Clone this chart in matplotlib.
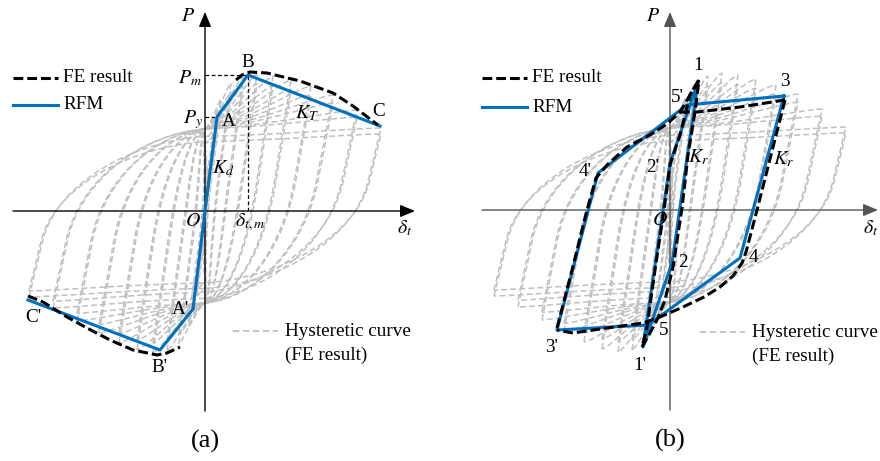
import matplotlib
matplotlib.use("Agg")
import matplotlib.pyplot as plt
from matplotlib.path import Path
from matplotlib.patches import PathPatch

plt.rcParams["font.family"] = ["Liberation Serif", "DejaVu Serif"]
plt.rcParams["mathtext.fontset"] = "stix"

# FE cyclic loops: displacement amplitude and peak loads per cycle level
loop_d = [8, 16, 26, 38, 52, 68, 86, 106, 128, 152, 176]
loop_pos = [80, 112, 128, 134, 137, 135, 131, 125, 116, 101, 83]
loop_neg = [-85, -115, -133, -140, -142, -139, -132, -122, -110, -97, -86]

# (a) skeleton curve
rfm_a_x = [-177, -45, -12, 0, 12, 43, 175]
rfm_a_y = [-89, -139, -98, 0, 94, 136, 85]
fe_a_top_x = [31, 37, 45, 62, 95, 128, 148, 165, 173]
fe_a_top_y = [131, 136, 139, 138, 130, 118, 105, 92, 86]
fe_a_bot_x = [-177, -162, -138, -118, -95, -72, -48, -38, -25]
fe_a_bot_y = [-85, -91, -106, -117, -129, -139, -144, -142, -136]
P_m, P_y, d_m, d_y = 136, 94, 43, 12

# (b) hysteresis model
rfm_b_outer_x = [114, 70, -22, -113, -72, 17, 114]
rfm_b_outer_y = [114, -48, -115, -120, 37, 105, 114]
rfm_b_inner_x = [28, 0, -27, 2, 28]
rfm_b_inner_y = [128, 47, -137, -53, 128]
fe_b_up_x = [-113, -98, -83, -74, -63, -43, -20, -3, 10, 20, 29]
fe_b_up_y = [-118, -60, 0, 32, 45, 63, 75, 86, 98, 115, 130]
fe_b_top_x = [10, 27, 70, 115]
fe_b_top_y = [98, 98, 103, 110]
fe_b_down_x = [115, 101, 87, 76, 72, 63, 50, 34, 13, -10, -27, -63, -97, -113]
fe_b_down_y = [110, 55, 0, -42, -53, -66, -77, -87, -97, -107, -113, -118, -123, -120]
fe_b_in_l_x = [29, 20, 10, 0, -6, -15, -23, -28]
fe_b_in_l_y = [130, 115, 75, 45, 0, -60, -117, -137]
fe_b_in_r_x = [-28, -20, -13, -5, 3, 12, 18, 25, 29]
fe_b_in_r_y = [-137, -123, -110, -90, -57, 2, 55, 98, 130]

BLUE = "#0070c0"
GRAY = "#c0c0c0"
FS = 13.8


def loop_path(d, yp, yn, h=30, mp=82, mn=-92):
    # one pinched loop: straight stiff branch, bend into the pinch, then on to the peak
    k = 8 - 0.022 * d
    mp = min(mp, 0.9 * yp)
    mn = max(mn, 0.9 * yn)
    rx = min(-d + (-h - yn) / k, 0)
    ux = max(d - (yp - h) / k, 0)
    L1 = 0.55 * (mp + h)
    L2 = 0.55 * (h - mn)
    verts = [(-d, yn), (rx, -h),
             (rx + L1 / k, -h + L1), (0.45 * rx, mp - 5), (0, mp),
             (0.4 * d, mp + 0.15 * (yp - mp)), (0.85 * d, yp - 0.05 * (yp - mp)), (d, yp),
             (ux, h),
             (ux - L2 / k, h - L2), (0.45 * ux, mn + 5), (0, mn),
             (-0.4 * d, mn + 0.15 * (yn - mn)), (-0.85 * d, yn - 0.05 * (yn - mn)), (-d, yn)]
    codes = [Path.MOVETO, Path.LINETO] + [Path.CURVE4] * 6 + [Path.LINETO] + [Path.CURVE4] * 6
    return Path(verts, codes)


def draw_loops(ax):
    for d, yp, yn in zip(loop_d, loop_pos, loop_neg):
        for s in (1.0, 0.93):
            ax.add_patch(PathPatch(loop_path(d, yp * s, yn * s), fill=False, ec=GRAY,
                                   lw=1.1, ls=(0, (3.9, 2)), zorder=1))


def draw_axes(ax, x0, x1, y0, y1, color):
    style = "-|>,head_length=0.6,head_width=0.25"
    for xy, xyt in (((x1, 0), (x0, 0)), ((0, y1), (0, y0))):
        ax.annotate("", xy=xy, xytext=xyt, annotation_clip=False, zorder=3,
                    arrowprops=dict(arrowstyle=style, color=color, lw=1.0,
                                    mutation_scale=15, shrinkA=0, shrinkB=0))


def draw_legend(ax, x, y_fe, y_rfm, hx, hy):
    ax.plot([x, x + 45], [y_fe, y_fe], color="black", lw=2.2, ls=(0, (3.2, 1.3)))
    ax.text(x + 50, y_fe, "FE result", fontsize=FS, va="center")
    ax.plot([x, x + 45], [y_rfm, y_rfm], color=BLUE, lw=2.2)
    ax.text(x + 50, y_rfm, "RFM", fontsize=FS, va="center")
    ax.plot([hx, hx + 45], [hy, hy], color=GRAY, lw=1.3, ls=(0, (3.5, 2)))
    ax.text(hx + 52, hy, "Hysteretic curve", fontsize=FS, va="center")
    ax.text(hx + 52, hy - 24, "(FE result)", fontsize=FS, va="center")


fig = plt.figure(figsize=(8.8, 4.61), dpi=100)
ax_a = fig.add_axes([0, 0, 0.5, 1])
ax_b = fig.add_axes([0.5, 0, 0.5, 1])
ax_a.set_xlim(-205, 235)
ax_a.set_ylim(-250, 211)
ax_b.set_xlim(-230, 210)
ax_b.set_ylim(-251, 210)
for ax in (ax_a, ax_b):
    ax.axis("off")
    draw_loops(ax)

fe_kw = dict(color="black", lw=2.2, ls=(0, (3.2, 1.3)), zorder=5)

# (a) skeleton curve
draw_axes(ax_a, -192, 210, -200, 199, "black")
ax_a.plot([0, d_m], [P_m, P_m], color="black", lw=0.9, ls=(0, (3, 2)), zorder=2)
ax_a.plot([0, d_y], [P_y, P_y], color="black", lw=0.9, ls=(0, (3, 2)), zorder=2)
ax_a.plot([d_m, d_m], [0, P_m], color="black", lw=0.9, ls=(0, (3, 2)), zorder=2)
ax_a.plot(rfm_a_x, rfm_a_y, color=BLUE, lw=2.2, zorder=4)
ax_a.plot(fe_a_top_x, fe_a_top_y, **fe_kw)
ax_a.plot(fe_a_bot_x, fe_a_bot_y, **fe_kw)
draw_legend(ax_a, -192, 133, 106, 28, -120)
for x, y, s in [(-17, 194, "$P$"), (200, -17, r"$\delta_t$"), (-12, -11, "$O$"),
                (-15, 133, "$P_m$"), (-12, 91, "$P_y$"), (45, -11, r"$\delta_{t,m}$"),
                (18, 43, "$K_d$"), (102, 98, "$K_T$")]:
    ax_a.text(x, y, s, fontsize=FS + 0.5, ha="center", va="center", zorder=6)
for x, y, s in [(24, 89, "A"), (43, 148, "B"), (174, 99, "C"),
                (-25, -99, "A'"), (-45, -156, "B'"), (-172, -106, "C'")]:
    ax_a.text(x, y, s, fontsize=FS, ha="center", va="center", zorder=6)
ax_a.text(0, -230, "(a)", fontsize=19, ha="center", va="center")

# (b) hysteresis model
draw_axes(ax_b, -188, 208, -200, 198, "#555555")
ax_b.plot(rfm_b_outer_x, rfm_b_outer_y, color=BLUE, lw=2.2, zorder=4)
ax_b.plot(rfm_b_inner_x, rfm_b_inner_y, color=BLUE, lw=2.2, zorder=4)
for xs, ys in [(fe_b_up_x, fe_b_up_y), (fe_b_top_x, fe_b_top_y), (fe_b_down_x, fe_b_down_y),
               (fe_b_in_l_x, fe_b_in_l_y), (fe_b_in_r_x, fe_b_in_r_y)]:
    ax_b.plot(xs, ys, **fe_kw)
draw_legend(ax_b, -188, 132, 103, 30, -122)
for x, y, s in [(-17, 193, "$P$"), (201, -18, r"$\delta_t$"), (-10, -10, "$O$"),
                (28, 53, "$K_r$"), (113, 51, "$K_r$")]:
    ax_b.text(x, y, s, fontsize=FS + 0.5, ha="center", va="center", zorder=6)
for x, y, s in [(28, 144, "1"), (115, 128, "3"), (7, 112, "5'"), (-17, 42, "2'"),
                (-85, 38, "4'"), (83, -47, "4"), (13, -52, "2"), (-6, -120, "5"),
                (-118, -137, "3'"), (-30, -155, "1'")]:
    ax_b.text(x, y, s, fontsize=FS, ha="center", va="center", zorder=6)
ax_b.text(0, -230, "(b)", fontsize=19, ha="center", va="center")

fig.savefig("out.png", dpi=100, facecolor="white")
